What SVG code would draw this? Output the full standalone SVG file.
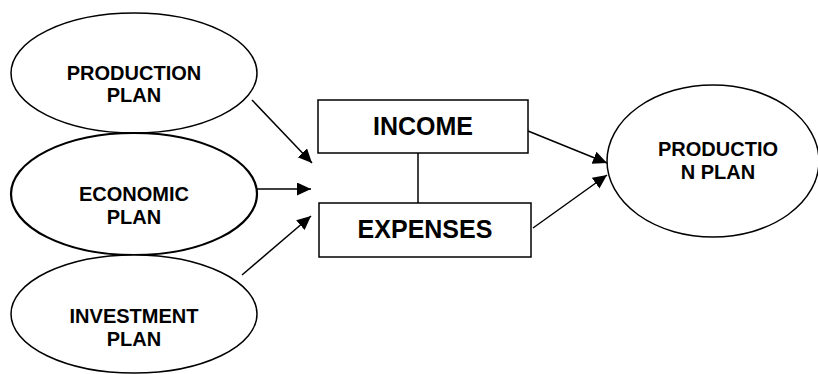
<svg xmlns="http://www.w3.org/2000/svg" width="818" height="374" viewBox="0 0 818 374">
<style>
.node ellipse, .node rect { fill: #fff; stroke: #000; stroke-width: 1.5; }
.t { font-family: "Liberation Sans", Arial, sans-serif; font-weight: bold; fill: #000; text-anchor: middle; }
.s { font-size: 20px; }
.b { font-size: 25px; }
.conn line { stroke: #000; stroke-width: 1.5; fill: none; }
</style>
<defs>
<marker id="arr" markerUnits="userSpaceOnUse" markerWidth="15" markerHeight="14" refX="14" refY="6.5" orient="auto">
<path d="M0,0 L14,6.5 L0,13 z" fill="#000"/>
</marker>
</defs>
<rect width="818" height="374" fill="#fff"/>
<g id="production-plan-1" class="node">
<ellipse cx="134" cy="73" rx="123" ry="60"/>
<text class="t s" x="134" y="80">PRODUCTION</text>
<text class="t s" x="134" y="102">PLAN</text>
</g>
<g id="economic-plan" class="node">
<ellipse cx="134" cy="194" rx="123" ry="61" style="stroke-width:2.2"/>
<text class="t s" x="134" y="201">ECONOMIC</text>
<text class="t s" x="134" y="224">PLAN</text>
</g>
<g id="investment-plan" class="node">
<ellipse cx="134" cy="314" rx="123" ry="59"/>
<text class="t s" x="134" y="323">INVESTMENT</text>
<text class="t s" x="134" y="346">PLAN</text>
</g>
<g id="income" class="node">
<rect x="318" y="100" width="210" height="53"/>
<text class="t b" x="423" y="135">INCOME</text>
</g>
<g id="expenses" class="node">
<rect x="319" y="203" width="212" height="54"/>
<text class="t b" x="425" y="238">EXPENSES</text>
</g>
<g id="production-plan-2" class="node">
<ellipse cx="713" cy="161" rx="106" ry="76"/>
<text class="t s" x="718" y="156">PRODUCTIO</text>
<text class="t s" x="718" y="179">N PLAN</text>
</g>
<g id="connectors" class="conn">
<line x1="252" y1="100" x2="312" y2="163" marker-end="url(#arr)"/>
<line x1="256" y1="189" x2="311" y2="189" marker-end="url(#arr)"/>
<line x1="242" y1="275" x2="311" y2="216" marker-end="url(#arr)"/>
<line x1="418" y1="153" x2="418" y2="203"/>
<line x1="528" y1="131" x2="607" y2="163" marker-end="url(#arr)"/>
<line x1="533" y1="228" x2="607" y2="175" marker-end="url(#arr)"/>
</g>
</svg>
